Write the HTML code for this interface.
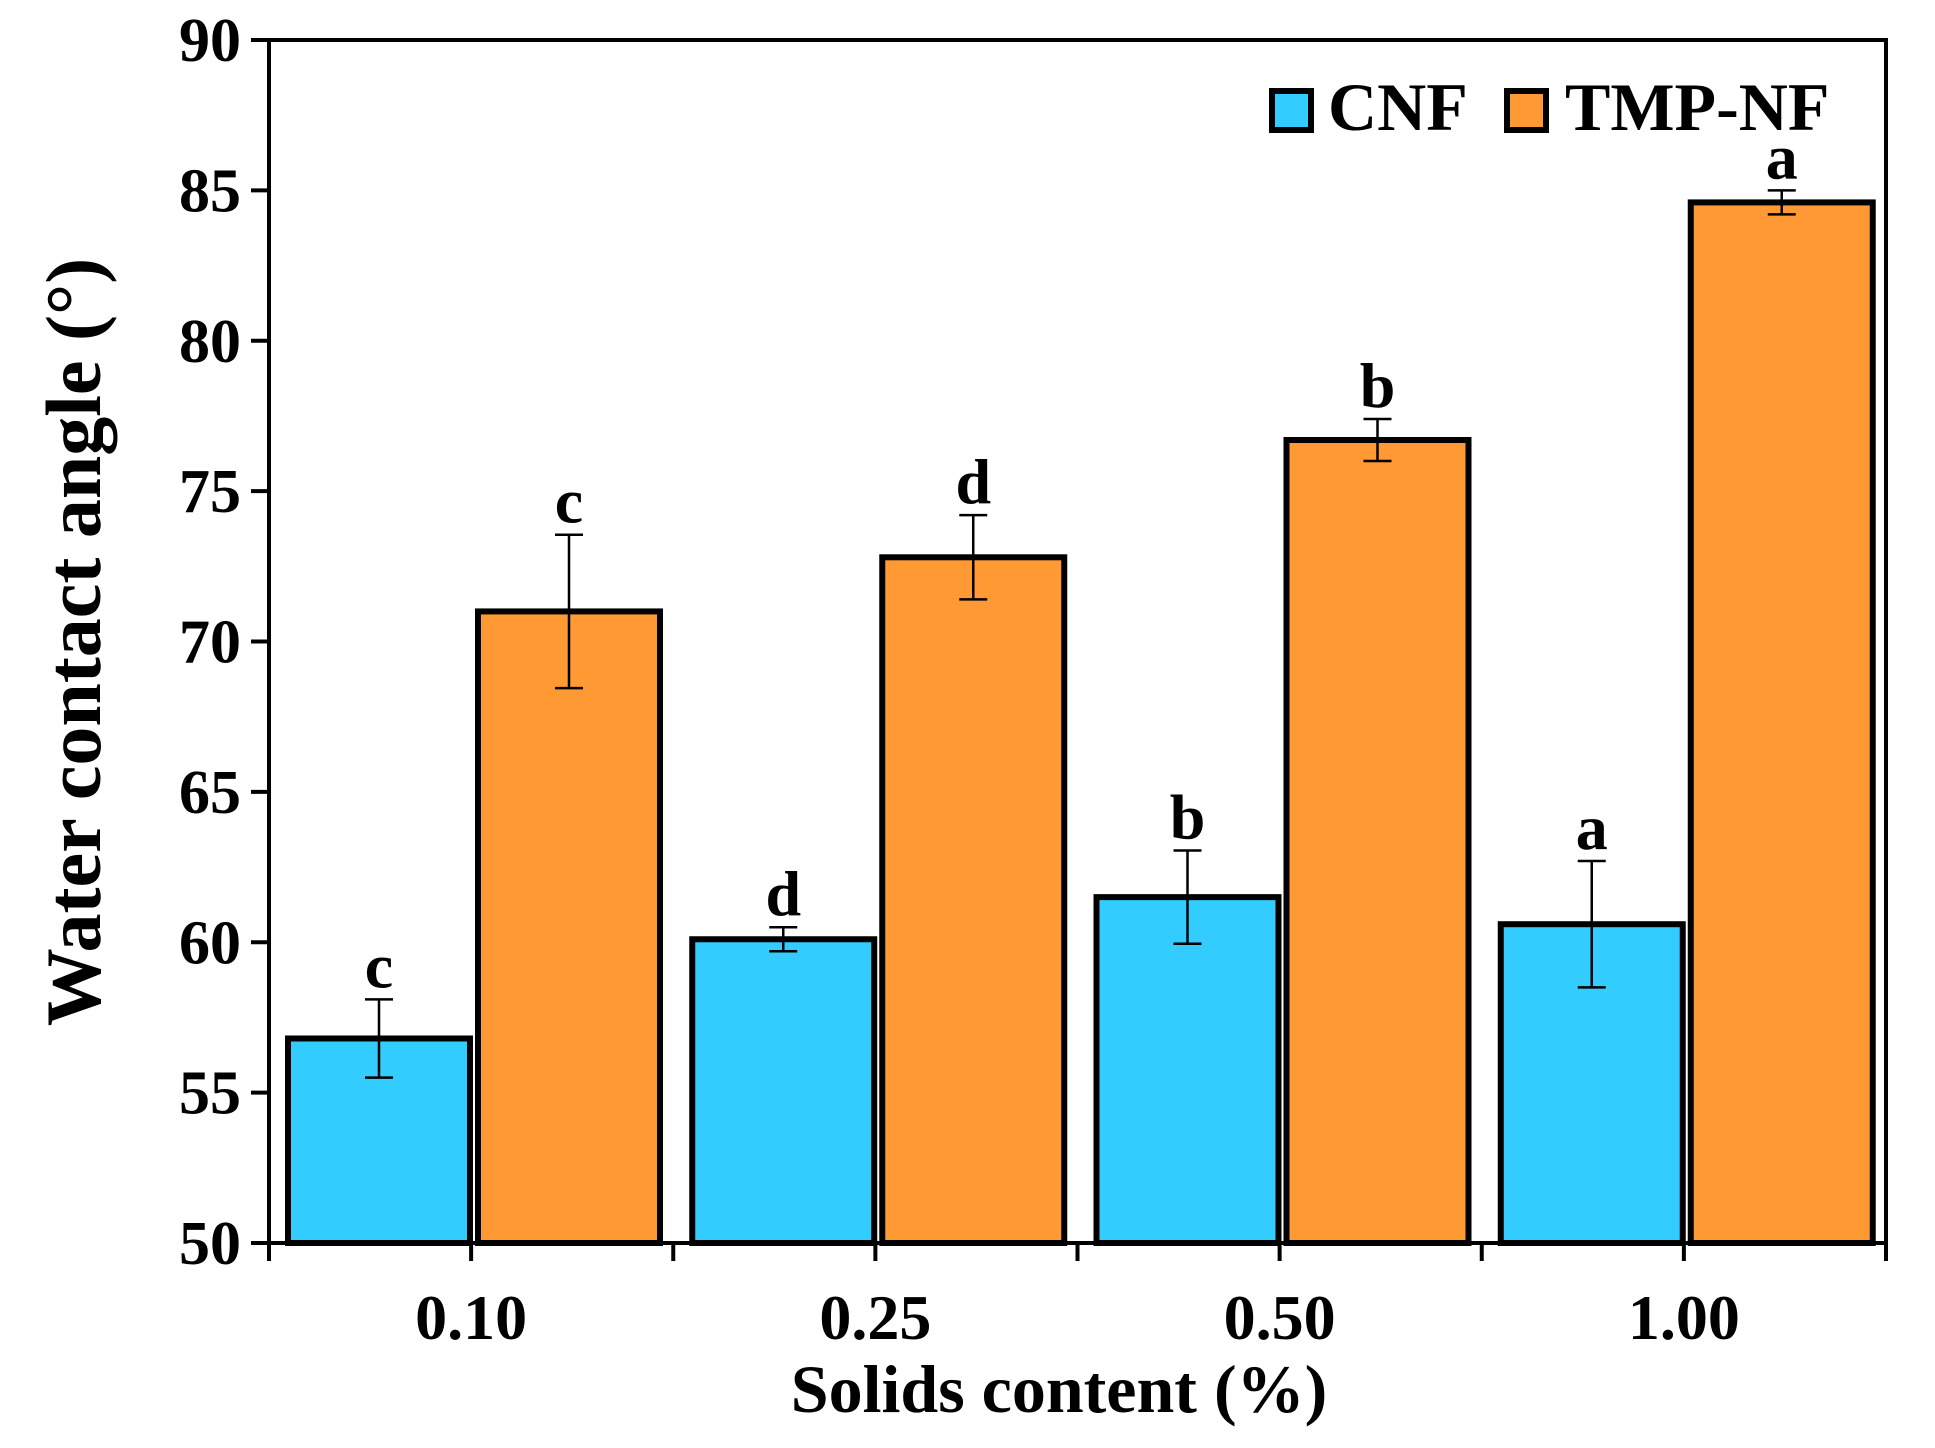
<!DOCTYPE html>
<html><head><meta charset="utf-8"><style>
html,body{margin:0;padding:0;background:#fff;}
svg{display:block;font-family:"Liberation Serif",serif;font-weight:bold;}
</style></head><body>
<svg id="chart" width="1935" height="1448" viewBox="0 0 1935 1448" xmlns="http://www.w3.org/2000/svg">
<g id="plot"></g>
<g id="axes"></g>
<text x="0" y="0" transform="translate(100,642) rotate(-90)" text-anchor="middle" font-size="78">Water contact angle (°)</text>
<text x="1059" y="1412" text-anchor="middle" font-size="68">Solids content (%)</text>
<g>
<rect x="1272" y="91" width="39" height="39" fill="#33CCFF" stroke="#000" stroke-width="6"/>
<text x="1328" y="130" font-size="68">CNF</text>
<rect x="1507" y="91" width="39" height="39" fill="#FF9933" stroke="#000" stroke-width="6"/>
<text x="1565" y="130" font-size="68">TMP-NF</text>
</g>
</svg>
<script>
const categories = ["0.10","0.25","0.50","1.00"];
const cnfValues = [56.8, 60.1, 61.5, 60.6];
const cnfErrors = [1.3, 0.4, 1.55, 2.1];
const cnfLetters = ["c","d","b","a"];
const tmpValues = [71.0, 72.8, 76.7, 84.6];
const tmpErrors = [2.55, 1.4, 0.7, 0.4];
const tmpLetters = ["c","d","b","a"];
const yTicks = [50,55,60,65,70,75,80,85,90];

const NS="http://www.w3.org/2000/svg";
const L=269,R=1886,T=40,B=1243,yMin=50,yMax=90;
const gw=(R-L)/categories.length;
function y(v){return B-(v-yMin)/(yMax-yMin)*(B-T);}
function gx(i){return L+i*gw;}
function mk(tag,attrs,parent){const e=document.createElementNS(NS,tag);for(const k in attrs)e.setAttribute(k,attrs[k]);parent.appendChild(e);return e;}
const plot=document.getElementById('plot'), axes=document.getElementById('axes');
const barW=182;
function drawSeries(vals,errs,letters,off,color,name){
  vals.forEach((v,i)=>{
    const x=gx(i)+off;
    const r=mk('rect',{x:x,y:y(v),width:barW,height:B-y(v),fill:color,stroke:'#000','stroke-width':6},plot);
    
    
    const cx=x+barW/2, hi=y(v+errs[i]), lo=y(v-errs[i]);
    const g=mk('path',{d:`M${cx},${hi}V${lo}M${cx-14},${hi}H${cx+14}M${cx-14},${lo}H${cx+14}`,stroke:'#000','stroke-width':2.5,fill:'none'},plot);
    
    
    const t=mk('text',{x:cx,y:hi-12,'text-anchor':'middle','font-size':64},plot);
    t.textContent=letters[i];
    
    
  });
}
drawSeries(cnfValues,cnfErrors,cnfLetters,19,'#33CCFF','cnf');
drawSeries(tmpValues,tmpErrors,tmpLetters,209,'#FF9933','tmp-nf');
const f=mk('rect',{x:L,y:T,width:R-L,height:B-T,fill:'none',stroke:'#000','stroke-width':4},axes);


yTicks.forEach(v=>{
  mk('line',{x1:L-18,x2:L,y1:y(v),y2:y(v),stroke:'#000','stroke-width':4},axes);
  const t=mk('text',{x:L-28,y:y(v)+21,'text-anchor':'end','font-size':62},axes);
  t.textContent=v;
  
  
});
for(let i=0;i<=categories.length;i++){
  mk('line',{x1:gx(i),x2:gx(i),y1:B,y2:B+18,stroke:'#000','stroke-width':4},axes);
}
categories.forEach((c,i)=>{
  const cx=gx(i)+gw/2;
  mk('line',{x1:cx,x2:cx,y1:B,y2:B+18,stroke:'#000','stroke-width':4},axes);
  const t=mk('text',{x:cx,y:B+96,'text-anchor':'middle','font-size':64},axes);
  t.textContent=c;
  
  
});
</script>
</body></html>
